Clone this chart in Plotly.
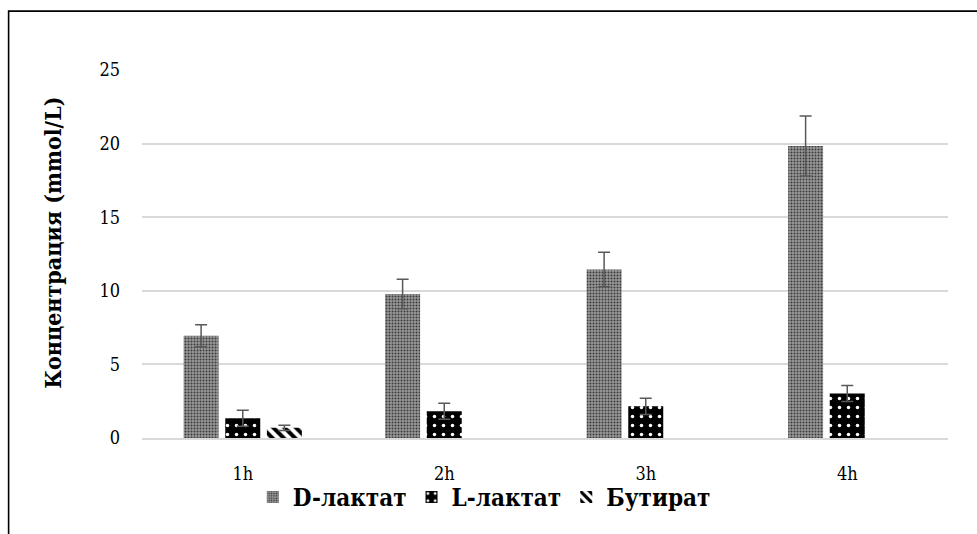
import plotly.graph_objects as go

# Time points and measured concentrations (mmol/L) with their error margins
hours = ["1h", "2h", "3h", "4h"]

d_lactate = [6.95, 9.78, 11.45, 19.84]
d_lactate_err = [0.75, 1.0, 1.17, 2.04]

l_lactate = [1.34, 1.82, 2.15, 3.02]
l_lactate_err = [0.55, 0.54, 0.55, 0.54]

butyrate = [0.69, None, None, None]
butyrate_err = [0.18, None, None, None]

y_ticks = [0, 5, 10, 15, 20, 25]

SERIF = "DejaVu Serif Condensed, DejaVu Serif"
ERR_COLOR = "#595959"
GRID = "#d9d9d9"


def err(vals):
    return dict(type="data", array=vals, visible=True, color=ERR_COLOR,
                thickness=1.5, width=6)


fig = go.Figure()

fig.add_trace(go.Bar(
    name="<b>D-лактат</b>", x=hours, y=d_lactate, error_y=err(d_lactate_err),
    marker=dict(
        color="#999999", line=dict(width=0),
        pattern=dict(shape=".", fillmode="replace", bgcolor="#999999",
                     fgcolor="#3a3a3a", size=3, solidity=0.35),
    ),
))

fig.add_trace(go.Bar(
    name="<b>L-лактат</b>", x=hours, y=l_lactate, error_y=err(l_lactate_err),
    marker=dict(
        color="#000000", line=dict(width=0),
        pattern=dict(shape=".", fillmode="replace", bgcolor="#000000",
                     fgcolor="#ffffff", size=9, solidity=0.12),
    ),
))

fig.add_trace(go.Bar(
    name="<b>Бутират</b>", x=hours, y=butyrate, error_y=err(butyrate_err),
    marker=dict(
        color="#000000", line=dict(width=0),
        pattern=dict(shape="\\", fillmode="replace", bgcolor="#ffffff",
                     fgcolor="#000000", size=8, solidity=0.5),
    ),
))

fig.update_layout(
    width=977, height=534,
    margin=dict(l=142, r=29, t=70, b=95.5),
    paper_bgcolor="#ffffff", plot_bgcolor="#ffffff",
    barmode="group", bargap=0.38, bargroupgap=0.16,
    font=dict(family=SERIF, color="#000000", size=18),
    showlegend=True,
    legend=dict(
        orientation="h", x=0.4247, xanchor="center", y=-0.1615,
        yanchor="middle", font=dict(family=SERIF, size=24, color="#000000"),
        itemwidth=30, traceorder="normal", bgcolor="rgba(0,0,0,0)",
    ),
    shapes=[dict(
        type="rect", xref="paper", yref="paper",
        x0=-0.1655, x1=1.3, y0=-0.6, y1=1.160,
        line=dict(color="#000000", width=1.6), fillcolor="rgba(0,0,0,0)",
        layer="above",
    )],
    annotations=[dict(
        text="<b>Концентрация (mmol/L)</b>", textangle=-90,
        xref="paper", yref="paper", x=-0.111, y=0.529,
        xanchor="center", yanchor="middle", showarrow=False,
        font=dict(family=SERIF, size=23, color="#000000"),
    )],
)

fig.update_xaxes(
    showgrid=False, showline=True, linecolor=GRID, linewidth=1.8,
    ticks="", ticklabelstandoff=18,
    tickfont=dict(family=SERIF, size=18, color="#000000"),
)

fig.update_yaxes(
    range=[0, 25], tickvals=y_ticks, showgrid=True, gridcolor=GRID,
    gridwidth=1.5, zeroline=False, showline=False, ticks="",
    ticklabelstandoff=21,
    tickfont=dict(family=SERIF, size=18, color="#000000"),
)

fig.write_html("out.html")
